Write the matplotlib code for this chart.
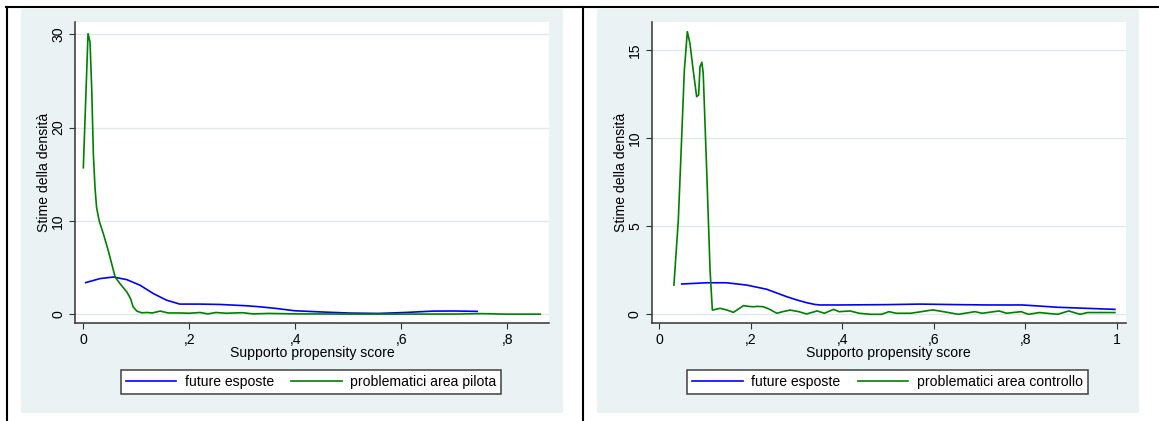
import matplotlib
matplotlib.use("Agg")
import matplotlib.pyplot as plt
from matplotlib.patches import Rectangle
from matplotlib.lines import Line2D

plt.rcParams['font.family'] = ['Liberation Sans', 'DejaVu Sans']

# ---------------- data ----------------
# left panel: area pilota
pil_blue_x = [0.0045, 0.0315, 0.0566, 0.082, 0.107, 0.132, 0.157, 0.182, 0.22, 0.258,
              0.308, 0.333, 0.363, 0.398, 0.439, 0.502, 0.557, 0.606, 0.661, 0.70, 0.743]
pil_blue_y = [3.4, 3.83, 4.0, 3.72, 3.12, 2.23, 1.52, 1.1, 1.1, 1.06,
              0.92, 0.81, 0.64, 0.39, 0.28, 0.14, 0.1, 0.2, 0.35, 0.36, 0.32]

pil_green_x = [0.0, 0.0089, 0.0126, 0.0158, 0.019, 0.022, 0.025, 0.030, 0.038, 0.047,
               0.0536, 0.060, 0.069, 0.082, 0.089, 0.094, 0.101, 0.110, 0.12, 0.13,
               0.145, 0.16, 0.18, 0.2, 0.22, 0.235, 0.25, 0.27, 0.3, 0.32, 0.35, 0.4,
               0.5, 0.6, 0.7, 0.75, 0.8, 0.862]
pil_green_y = [15.7, 30.06, 29.2, 24.2, 17.1, 13.6, 11.45, 10.0, 8.6, 6.84,
               5.4, 4.0, 3.3, 2.4, 1.7, 0.8, 0.35, 0.17, 0.2, 0.15,
               0.35, 0.15, 0.15, 0.12, 0.2, 0.05, 0.2, 0.12, 0.18, 0.05, 0.1, 0.05,
               0.03, 0.03, 0.03, 0.08, 0.02, 0.02]

# right panel: area controllo
ctl_blue_x = [0.049, 0.1036, 0.147, 0.191, 0.235, 0.2785, 0.30, 0.322, 0.34, 0.351,
              0.395, 0.5, 0.57, 0.65, 0.72, 0.794, 0.871, 0.996]
ctl_blue_y = [1.72, 1.79, 1.79, 1.66, 1.42, 1.0, 0.82, 0.66, 0.56, 0.53,
              0.53, 0.55, 0.58, 0.55, 0.53, 0.53, 0.40, 0.28]

ctl_green_x = [0.032, 0.0416, 0.049, 0.0548, 0.0613, 0.067, 0.074, 0.0817, 0.086, 0.089,
               0.093, 0.096, 0.1036, 0.111, 0.116, 0.133, 0.147, 0.162, 0.184, 0.195,
               0.2055, 0.215, 0.227, 0.24, 0.257, 0.27, 0.286, 0.305, 0.322, 0.345,
               0.361, 0.381, 0.393, 0.417, 0.437, 0.462, 0.486, 0.502, 0.518, 0.55,
               0.598, 0.630, 0.654, 0.69, 0.706, 0.743, 0.759, 0.791, 0.807, 0.831,
               0.847, 0.871, 0.895, 0.92, 0.936, 0.996]
ctl_green_y = [1.66, 5.35, 10.08, 13.87, 16.04, 15.38, 13.87, 12.35, 12.45, 14.05,
               14.3, 13.7, 8.19, 2.5, 0.24, 0.34, 0.25, 0.11, 0.49, 0.45,
               0.43, 0.45, 0.43, 0.3, 0.06, 0.15, 0.24, 0.15, 0.02, 0.19,
               0.06, 0.28, 0.15, 0.19, 0.06, 0.0, 0.0, 0.15, 0.06, 0.06,
               0.25, 0.11, 0.0, 0.15, 0.06, 0.19, 0.06, 0.15, 0.0, 0.1,
               0.06, 0.0, 0.19, 0.0, 0.1, 0.1]

left_xticks = [0, 0.2, 0.4, 0.6, 0.8]
left_xlabels = ["0", ",2", ",4", ",6", ",8"]
left_yticks = [0, 10, 20, 30]
right_xticks = [0, 0.2, 0.4, 0.6, 0.8, 1.0]
right_xlabels = ["0", ",2", ",4", ",6", ",8", "1"]
right_yticks = [0, 5, 10, 15]

label_blue = "future esposte"
label_green_left = "problematici area pilota"
label_green_right = "problematici area controllo"
xlabel = "Supporto propensity score"
ylabel = "Stime della densità"

# ---------------- layout ----------------
W, H = 1159, 421
DPI = 100
fig = plt.figure(figsize=(W / DPI, H / DPI), dpi=DPI)
fig.patch.set_facecolor('white')

BG = '#EAF2F3'
GRID = '#E0EAEC'
AX = '#333333'
BLUE = '#0000FF'
GREEN = '#008000'
FS = 10.1


def rect_px(x0, y0, x1, y1):
    return [x0 / W, 1 - y1 / H, (x1 - x0) / W, (y1 - y0) / H]


# panel backgrounds
for (x0, x1) in [(21, 562.7), (597.3, 1139)]:
    fig.patches.append(Rectangle((x0 / W, 1 - 413.3 / H), (x1 - x0) / W, (413.3 - 9) / H,
                                 transform=fig.transFigure, facecolor=BG, edgecolor='none',
                                 zorder=-10))

# outer border lines
lw_b = 1.5
fig.add_artist(Line2D([6 / W, 1.0], [1 - 7 / H, 1 - 7 / H], transform=fig.transFigure,
                      color='black', lw=lw_b))
fig.add_artist(Line2D([6.5 / W, 6.5 / W], [0, 1 - 7 / H], transform=fig.transFigure,
                      color='black', lw=lw_b))
fig.add_artist(Line2D([582.5 / W, 582.5 / W], [0, 1 - 7 / H], transform=fig.transFigure,
                      color='black', lw=lw_b))


def make_panel(axrect, xlim, ylim, xticks, xlabels, yticks, bx, by, gx, gy, glabel,
               legend_center):
    ax = fig.add_axes(axrect)
    ax.set_zorder(1)
    ax.set_facecolor('white')
    ax.plot(bx, by, color=BLUE, lw=1.2, label=label_blue, zorder=3)
    ax.plot(gx, gy, color=GREEN, lw=1.2, label=glabel, zorder=3)
    ax.set_xlim(*xlim)
    ax.set_ylim(*ylim)
    ax.set_xticks(xticks)
    ax.set_xticklabels(xlabels)
    ax.set_yticks(yticks)
    ax.set_yticklabels([str(v) for v in yticks], rotation=90, va='center')
    for s in ['top', 'right']:
        ax.spines[s].set_visible(False)
    for s in ['left', 'bottom']:
        ax.spines[s].set_color(AX)
        ax.spines[s].set_linewidth(1.1)
    ax.tick_params(axis='both', direction='out', length=4.5, width=0.8, color=AX,
                   labelsize=FS, labelcolor='black')
    ax.tick_params(axis='y', pad=2.5)
    ax.tick_params(axis='x', pad=2.5)
    ax.yaxis.grid(True, color=GRID, lw=1.0)
    ax.set_axisbelow(True)
    ax.set_xlabel(xlabel, fontsize=FS, color='black')
    ax.xaxis.set_label_coords(0.5, -0.075)
    ax.set_ylabel(ylabel, fontsize=FS, color='black')
    ax.yaxis.set_label_coords(-0.051, 0.5)
    leg = fig.legend(handles=ax.get_lines(), labels=[label_blue, glabel], ncol=2,
                     loc='center', bbox_to_anchor=(legend_center[0] / W, 1 - legend_center[1] / H),
                     bbox_transform=fig.transFigure, fontsize=FS, frameon=True,
                     fancybox=False, shadow=False, framealpha=1.0, edgecolor='#404040',
                     handlelength=3.6, handletextpad=0.6, columnspacing=1.25,
                     borderpad=0.35, borderaxespad=0)
    leg.get_frame().set_linewidth(1.1)
    for l in leg.get_lines():
        l.set_linewidth(1.2)
    return ax


make_panel(rect_px(75, 22.3, 549.3, 323.3), (-0.0157, 0.879), (-0.957, 31.28),
           left_xticks, left_xlabels, left_yticks,
           pil_blue_x, pil_blue_y, pil_green_x, pil_green_y, label_green_left,
           (311, 381.7))
make_panel(rect_px(651.7, 22.3, 1125.7, 323.3), (-0.0166, 1.0197), (-0.51, 16.57),
           right_xticks, right_xlabels, right_yticks,
           ctl_blue_x, ctl_blue_y, ctl_green_x, ctl_green_y, label_green_right,
           (887.5, 381.7))

fig.savefig('out.png', dpi=DPI)
